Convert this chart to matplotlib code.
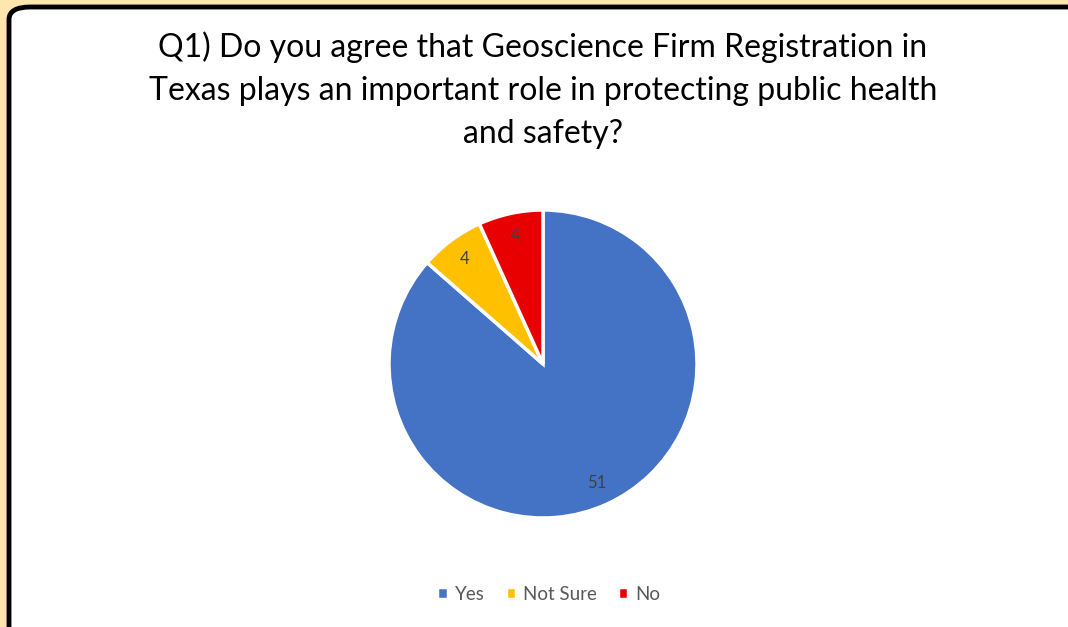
import matplotlib.pyplot as plt
from matplotlib.patches import FancyBboxPatch

categories = ["Yes", "Not Sure", "No"]
counts = [51, 4, 4]
colors = ["#4472C4", "#FFC000", "#E80000"]
title = ("Q1) Do you agree that Geoscience Firm Registration in\n"
         "Texas plays an important role in protecting public health\n"
         "and safety?")

W, H = 1068, 627
fig = plt.figure(figsize=(W / 100, H / 100), dpi=100)
fig.patch.set_facecolor("#FFE5AE")

# white card with black rounded border, running off the right and bottom edges
card = FancyBboxPatch((9 / W, -0.05), 1.1, (H - 7) / H + 0.05,
                      boxstyle="round,pad=0,rounding_size=0.02",
                      transform=fig.transFigure, facecolor="white",
                      edgecolor="black", linewidth=3.5, zorder=-5)
fig.patches.append(card)

total = sum(counts)
cx, cy, r = 543, H - 364, 154
ax = fig.add_axes([(cx - r) / W, (cy - r) / H, 2 * r / W, 2 * r / H])
ax.set_zorder(2)
wedges, texts, autotexts = ax.pie(
    counts, colors=colors, startangle=90, counterclock=False,
    autopct=lambda p: f"{round(p * total / 100)}", pctdistance=0.85,
    wedgeprops=dict(edgecolor="white", linewidth=2.5),
    textprops=dict(color="#404040", fontsize=12, family="Lato"))
ax.set_xlim(-1, 1)
ax.set_ylim(-1, 1)

fig.text(cx / W, 1 - 31 / H, title, ha="center", va="top", fontsize=23,
         family="Lato", color="black", linespacing=1.56)

leg = fig.legend(wedges, categories, loc="center", bbox_to_anchor=(549 / W, 1 - 594 / H),
                 ncol=3, frameon=False, handlelength=0.55, handleheight=0.55,
                 handletextpad=0.4, columnspacing=1.1,
                 prop=dict(family="Lato", size=13.5))
for t in leg.get_texts():
    t.set_color("#595959")

fig.savefig("out.png", dpi=100, facecolor=fig.get_facecolor())
